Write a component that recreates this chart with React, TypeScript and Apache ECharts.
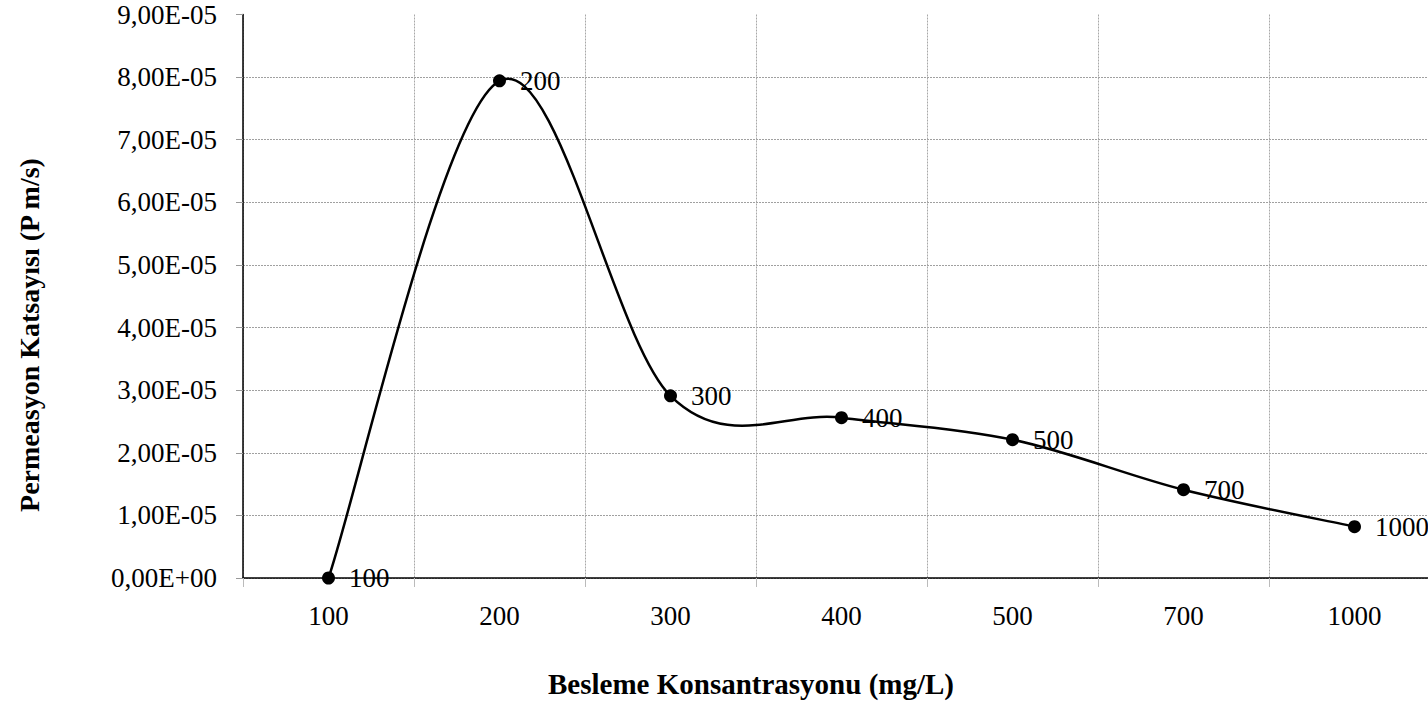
import React, { useEffect, useRef } from "react";
import * as echarts from "echarts";

const categories = ["100", "200", "300", "400", "500", "700", "1000"];
const permeability = [0, 7.94e-5, 2.91e-5, 2.56e-5, 2.21e-5, 1.41e-5, 0.82e-5];
const yMin = 0;
const yMax = 9e-5;
const yStep = 1e-5;
const xTitle = "Besleme Konsantrasyonu (mg/L)";
const yTitle = "Permeasyon Katsayısı (P m/s)";

const FONT = "'Liberation Serif', 'Times New Roman', serif";

function fmt(v: number): string {
  if (Math.abs(v) < 1e-12) return "0,00E+00";
  const [m, e] = v.toExponential(2).split("e");
  const ex = parseInt(e, 10);
  const sign = ex < 0 ? "-" : "+";
  const abs = Math.abs(ex).toString().padStart(2, "0");
  return m.replace(".", ",") + "E" + sign + abs;
}

export default function App() {
  const ref = useRef<HTMLDivElement>(null);
  useEffect(() => {
    if (!ref.current) return;
    const chart = echarts.init(ref.current, undefined, { renderer: "svg" });
    const n = permeability.length;
    chart.setOption({
      animation: false,
      backgroundColor: "#ffffff",
      grid: {
        left: 243,
        top: 14.5,
        right: -12,
        bottom: 126,
        containLabel: false,
        outerBoundsMode: "none",
      },
      xAxis: {
        type: "category",
        data: categories,
        boundaryGap: true,
        axisLine: { show: true, lineStyle: { color: "#000", width: 1.5 } },
        axisTick: { show: true, length: 9, lineStyle: { color: "#bbb", width: 1 } },
        axisLabel: { margin: 24, fontFamily: FONT, fontSize: 27, color: "#000" },
        splitLine: { show: true, lineStyle: { color: "#a8a8a8", width: 1, type: [2, 1] } },
      },
      yAxis: {
        type: "value",
        min: yMin,
        max: yMax,
        interval: yStep,
        axisLine: { show: true, lineStyle: { color: "#000", width: 1.5 } },
        axisTick: { show: true, length: 7, lineStyle: { color: "#999", width: 1 } },
        axisLabel: {
          margin: 26,
          fontFamily: FONT,
          fontSize: 27,
          color: "#000",
          formatter: (v: number) => fmt(v),
        },
        splitLine: {
          show: true,
          showMaxLine: false,
          lineStyle: { color: "#a0a0a0", width: 1, type: [2, 1] },
        },
      },
      graphic: [
        {
          type: "text",
          x: 751,
          y: 684,
          style: {
            text: xTitle,
            font: `bold 29px ${FONT}`,
            fill: "#000",
            textAlign: "center",
            textVerticalAlign: "middle",
          },
        },
        {
          type: "text",
          x: 29,
          y: 335,
          rotation: Math.PI / 2,
          style: {
            text: yTitle,
            font: `bold 28px ${FONT}`,
            fill: "#000",
            textAlign: "center",
            textVerticalAlign: "middle",
          },
        },
      ],
      series: [
        {
          // Excel-style smoothed line (Catmull-Rom through the data points)
          type: "custom",
          data: permeability.map((v, i) => [i, v]),
          encode: { x: 0, y: 1 },
          z: 2,
          silent: true,
          renderItem: (params: any, api: any) => {
            const i = params.dataIndex;
            if (i >= n - 1) return { type: "group", children: [] };
            const P = (k: number) => {
              const kk = Math.max(0, Math.min(n - 1, k));
              return api.coord([kk, permeability[kk]]);
            };
            const p0 = P(i - 1);
            const p1 = P(i);
            const p2 = P(i + 1);
            const p3 = P(i + 2);
            const t = 1 / 6;
            return {
              type: "bezierCurve",
              shape: {
                x1: p1[0],
                y1: p1[1],
                cpx1: p1[0] + (p2[0] - p0[0]) * t,
                cpy1: p1[1] + (p2[1] - p0[1]) * t,
                cpx2: p2[0] - (p3[0] - p1[0]) * t,
                cpy2: p2[1] - (p3[1] - p1[1]) * t,
                x2: p2[0],
                y2: p2[1],
              },
              style: { stroke: "#000", lineWidth: 2.5, fill: null },
            };
          },
        },
        {
          type: "line",
          data: permeability,
          z: 3,
          symbol: "circle",
          symbolSize: 13,
          itemStyle: { color: "#000" },
          lineStyle: { width: 0, opacity: 0 },
          label: {
            show: true,
            position: "right",
            distance: 14,
            fontFamily: FONT,
            fontSize: 27,
            color: "#000",
            formatter: (p: any) => categories[p.dataIndex],
          },
        },
      ],
    });
    return () => chart.dispose();
  }, []);
  return (
    <div
      ref={ref}
      style={{ position: "absolute", left: 0, top: 0, width: 1428, height: 704 }}
    />
  );
}
